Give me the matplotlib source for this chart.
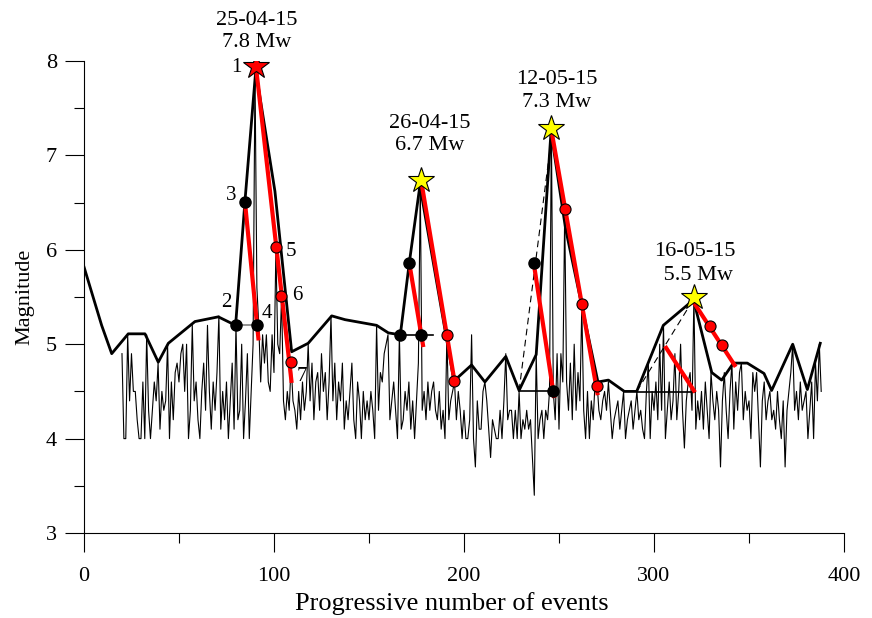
import numpy as np
import matplotlib
matplotlib.use('Agg')
import matplotlib.pyplot as plt
from matplotlib.ticker import MultipleLocator

plt.rcParams['font.family'] = ['Liberation Serif', 'DejaVu Serif']

# magnitude of each event, starting at progressive number 20
mag = [
    4.9, 4.0, 4.0, 5.1, 4.4, 4.9, 4.5, 4.5, 4.2, 4.0,
    4.0, 4.6, 4.0, 5.1, 4.3, 4.0, 4.3, 4.6, 4.4, 4.8,
    4.1, 4.5, 4.3, 4.4, 5.0, 4.0, 4.6, 4.2, 4.7, 4.8,
    4.6, 4.9, 5.0, 4.5, 5.0, 4.0, 4.3, 5.2, 4.4, 4.6,
    4.2, 4.0, 4.5, 4.8, 4.3, 5.2, 4.5, 4.1, 4.6, 4.3,
    4.7, 5.3, 4.1, 4.5, 4.2, 4.6, 4.0, 4.4, 4.8, 4.1,
    5.2, 4.2, 4.3, 5.0, 4.0, 4.4, 4.9, 4.0, 4.5, 5.0,
    7.9, 5.6, 5.2, 4.6, 5.1, 4.8, 5.1, 4.6, 4.5, 5.1,
    4.7, 6.0, 5.0, 4.9, 5.5, 4.4, 4.2, 4.5, 4.3, 4.8,
    4.4, 4.3, 4.1, 4.5, 4.2, 4.6, 4.3, 4.5, 5.0, 4.4,
    4.8, 4.2, 4.6, 4.7, 4.3, 4.9, 4.5, 4.7, 4.2, 4.6,
    5.3, 4.4, 4.8, 4.2, 4.6, 4.4, 4.8, 4.1, 4.4, 4.2,
    4.5, 4.8, 4.2, 4.0, 4.6, 4.4, 4.0, 4.5, 4.2, 4.4,
    4.2, 4.5, 4.3, 4.0, 5.2, 4.3, 4.7, 4.6, 4.9, 5.0,
    5.1, 4.2, 4.4, 4.6, 4.3, 4.0, 5.1, 4.1, 4.2, 4.5,
    4.3, 4.6, 4.1, 4.4, 4.0, 4.4, 4.8, 6.7, 4.3, 4.5,
    4.2, 4.6, 4.3, 4.5, 4.6, 4.3, 4.2, 4.5, 4.1, 4.3,
    4.0, 5.1, 4.2, 4.4, 4.5, 4.6, 4.2, 4.5, 4.3, 4.0,
    4.3, 4.0, 4.0, 4.2, 5.1, 4.0, 3.7, 4.4, 4.1, 4.1,
    4.5, 4.6, 4.4, 4.1, 3.8, 4.2, 4.1, 4.0, 4.0, 4.3,
    4.0, 4.4, 4.9, 4.2, 4.3, 4.3, 4.0, 4.3, 4.0, 4.5,
    4.0, 4.2, 4.1, 4.3, 4.1, 4.2, 3.8, 3.4, 4.9, 4.0,
    4.2, 4.3, 4.0, 4.3, 4.2, 4.5, 7.3, 4.5, 4.2, 4.9,
    4.1, 4.9, 4.6, 6.4, 4.6, 4.3, 4.8, 4.2, 5.0, 4.3,
    4.7, 4.4, 5.4, 4.3, 4.0, 4.5, 4.0, 4.4, 4.2, 4.6,
    4.6, 4.3, 4.2, 4.4, 4.5, 4.3, 4.6, 4.3, 4.0, 4.2,
    4.3, 4.4, 4.1, 4.3, 4.5, 4.0, 4.2, 4.3, 4.4, 4.1,
    4.3, 4.5, 4.2, 4.3, 4.1, 4.0, 4.5, 4.8, 4.0, 4.5,
    4.3, 4.6, 4.2, 5.0, 4.3, 5.2, 4.0, 4.3, 4.6, 4.2,
    4.4, 4.9, 4.2, 4.5, 5.0, 4.3, 3.9, 4.4, 4.6, 4.7,
    4.3, 5.5, 4.1, 4.4, 4.2, 4.5, 4.1, 4.6, 4.3, 4.0,
    4.7, 4.4, 4.2, 4.5, 4.3, 3.7, 4.4, 4.7, 4.3, 4.0,
    4.5, 4.8, 4.1, 4.6, 4.3, 4.7, 4.8, 4.2, 4.5, 4.3,
    4.4, 4.0, 4.7, 4.5, 4.7, 4.2, 3.7, 4.4, 4.6, 4.2,
    4.4, 4.5, 4.2, 4.3, 4.1, 4.5, 4.2, 4.0, 4.4, 3.7,
    4.3, 4.5, 4.7, 5.0, 4.3, 4.5, 4.2, 4.6, 4.3, 4.4,
    4.5, 4.0, 4.3, 4.6, 4.0, 4.8, 4.4, 5.0, 4.5,
]
first_event = 20

# envelope (thick black line)
env_x = [0, 9.3, 14.6, 23.3, 32.1, 39.1, 44.4, 58.4, 70.7, 79.8, 84.7, 90.4,
         100.5, 109.3, 118, 130.4, 137.4, 154, 160.2, 166.5, 171.2, 176.8,
         194.7, 204, 211, 222, 229, 238, 245.8, 253.5, 270.5, 276, 284.4,
         290.9, 304.9, 320.8, 330.4, 335.6, 341.8, 349.1, 357.9, 361.9, 373,
         380.7, 387.5]
env_y = [5.82, 5.20, 4.90, 5.11, 5.11, 4.81, 5.01, 5.24, 5.29, 5.20, 6.51, 7.90,
         6.62, 4.92, 5.01, 5.30, 5.26, 5.20, 5.12, 5.10, 5.86, 6.68,
         4.61, 4.78, 4.60, 4.87, 4.51, 4.89, 7.25, 6.22, 4.60, 4.62, 4.50,
         4.50, 5.20, 5.47, 4.70, 4.62, 4.80, 4.80, 4.69, 4.51, 5.00,
         4.52, 5.01]

# main shocks
shock_x = [90.4, 177.4, 245.8, 321.0]
shock_y = [7.95, 6.74, 7.29, 5.50]
shock_color = ['red', 'yellow', 'yellow', 'yellow']
shock_date = ['25-04-15', '26-04-15', '12-05-15', '16-05-15']
shock_mw = ['7.8 Mw', '6.7 Mw', '7.3 Mw', ' 5.5 Mw']

# red fitted segments ((x0, x1), (y0, y1))
red_segs = [
    ((84.7, 91.9), (6.51, 5.04)),
    ((90.4, 109.3), (7.96, 4.59)),
    ((171.2, 178.6), (5.86, 4.97)),
    ((177.4, 195.0), (6.74, 4.61)),
    ((236.7, 247.5), (5.86, 4.43)),
    ((245.8, 270.4), (7.29, 4.46)),
    ((305.8, 321.6), (4.98, 4.49)),
    ((320.7, 343.0), (5.45, 4.76)),
]

# horizontal base lines
base_segs = [
    ((79.8, 90.9), (5.20, 5.20), 'gray'),
    ((166.3, 183.5), (5.10, 5.10), 'black'),
    ((229.0, 247.0), (4.50, 4.50), 'black'),
    ((290.9, 321.6), (4.49, 4.49), 'black'),
]

# dashed lines
dash_segs = [
    ((229.0, 245.5), (4.51, 7.10)),
    ((290.9, 320.0), (4.50, 5.45)),
]

black_dot_x = [79.8, 84.7, 90.9, 166.3, 171.2, 177.4, 236.7, 247.0]
black_dot_y = [5.20, 6.51, 5.20, 5.10, 5.86, 5.10, 5.86, 4.50]

red_dot_x = [101.0, 103.7, 108.8, 190.9, 194.7, 253.2, 261.9, 269.8, 329.5, 335.8]
red_dot_y = [6.03, 5.51, 4.81, 5.10, 4.61, 6.43, 5.43, 4.56, 5.19, 4.99]

num_labels = ['1', '2', '3', '4', '5', '6', '7']
num_x = [80.4, 75.1, 77.7, 96.2, 108.8, 112.3, 114.6]
num_y = [7.93, 5.44, 6.58, 5.33, 5.98, 5.52, 4.66]

date_x = [91.1, 182.1, 248.9, 321.6]
date_y = [8.43, 7.34, 7.80, 5.98]
mw_x = [91.1, 182.1, 248.9, 321.6]
mw_y = [8.20, 7.11, 7.56, 5.73]


def draw():
    fig = plt.figure(figsize=(8.72, 6.18), dpi=100)
    ax = fig.add_axes([0.0963, 0.1375, 0.8716, 0.7638])

    x = np.arange(first_event, first_event + len(mag))
    ax.plot(x, mag, color='black', lw=0.8, zorder=2)
    ax.plot(env_x, env_y, color='black', lw=2.0, zorder=3)

    for (xs, ys, c) in base_segs:
        ax.plot(xs, ys, color=c, lw=1.2, zorder=3)
    for (xs, ys) in dash_segs:
        ax.plot(xs, ys, color='black', lw=0.8, ls=(0, (6, 4)), zorder=3)
    for (xs, ys) in red_segs:
        ax.plot(xs, ys, color='red', lw=3, solid_capstyle='butt', zorder=4)

    ax.plot(black_dot_x, black_dot_y, 'o', color='black', ms=8, zorder=5)
    ax.plot(red_dot_x, red_dot_y, 'o', mfc='red', mec='black', mew=0.8,
            ms=8, zorder=5)
    for i in range(len(shock_x)):
        ax.plot(shock_x[i], shock_y[i], '*', mfc=shock_color[i], mec='black',
                mew=0.8, ms=19, zorder=6)
        ax.text(date_x[i], date_y[i], shock_date[i], ha='center', va='center',
                fontsize=16)
        ax.text(mw_x[i], mw_y[i], shock_mw[i], ha='center', va='center',
                fontsize=16)

    for i in range(len(num_labels)):
        ax.text(num_x[i], num_y[i], num_labels[i], ha='center', va='center',
                fontsize=15)

    ax.set_xlim(0, 400)
    ax.set_ylim(3, 8)
    ax.spines['top'].set_visible(False)
    ax.spines['right'].set_visible(False)
    ax.xaxis.set_major_locator(MultipleLocator(100))
    ax.xaxis.set_minor_locator(MultipleLocator(50))
    ax.yaxis.set_major_locator(MultipleLocator(1))
    ax.yaxis.set_minor_locator(MultipleLocator(0.5))
    ax.tick_params(which='major', direction='out', length=13.5, width=0.8,
                   labelsize=16)
    ax.tick_params(which='minor', direction='out', length=7, width=0.8)
    ax.tick_params(axis='x', which='major', pad=11)
    ax.tick_params(axis='y', which='major', pad=6)

    ax.set_xlabel('Progressive number of events', fontsize=19, labelpad=0)
    ax.xaxis.set_label_coords(0.484, -0.126)
    ax.set_ylabel('Magnitude', fontsize=16, labelpad=8)

    fig.savefig('out.png', dpi=100)


draw()
